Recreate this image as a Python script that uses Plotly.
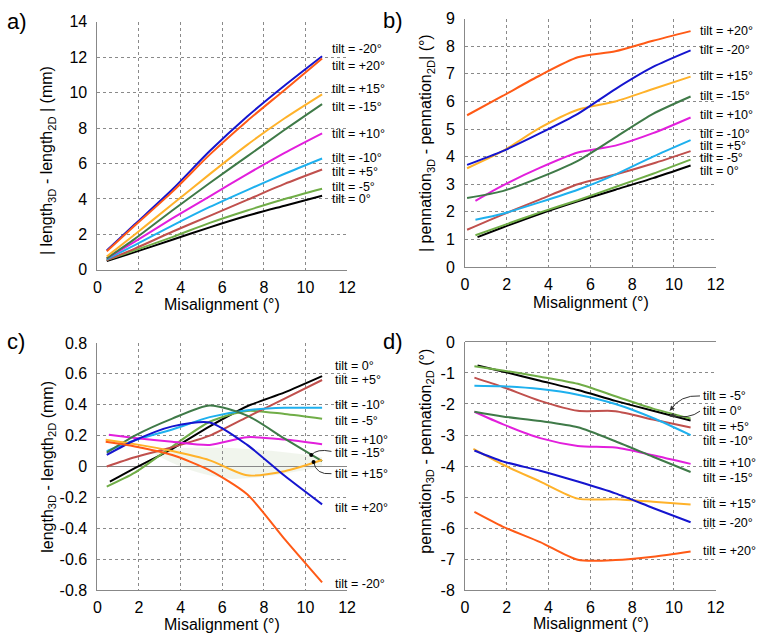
import plotly.graph_objects as go

# ==================== 数据 ====================
# tilt order used for every series list below
TILTS = ["0", "-5", "+5", "-10", "+10", "-15", "+15", "-20", "+20"]
COLORS = ["#000000", "#70AD47", "#C0504D", "#1EB0EE", "#E21FDC",
          "#3F7A48", "#FFB22A", "#1515CF", "#FF5A16"]

# misalignment (deg); first point differs slightly per series
MISALIGN = [0.5, 1.8, 3.6, 5.4, 7.2, 9.0, 10.8]
FIRST_X_A = [0.45, 0.45, 0.45, 0.45, 0.45, 0.45, 0.45, 0.45, 0.45]
FIRST_X_B = [0.6, 0.5, 0.1, 0.5, 0.5, 0.1, 0.1, 0.1, 0.1]
FIRST_X_C = [0.6, 0.45, 0.45, 0.45, 0.55, 0.45, 0.4, 0.45, 0.4]
FIRST_X_D = [0.6, 0.45, 0.45, 0.45, 0.45, 0.45, 0.4, 0.45, 0.45]

# a) | length3D - length2D | (mm)
A_T0 = [0.5, 1.0, 1.7, 2.4, 3.05, 3.62, 4.18]
A_M5 = [0.55, 1.1, 1.85, 2.65, 3.35, 4.0, 4.58]
A_P5 = [0.55, 1.2, 2.15, 3.05, 3.95, 4.85, 5.66]
A_M10 = [0.6, 1.4, 2.5, 3.55, 4.5, 5.42, 6.28]
A_P10 = [0.65, 1.6, 2.9, 4.15, 5.4, 6.6, 7.7]
A_M15 = [0.65, 1.75, 3.35, 4.9, 6.4, 7.9, 9.35]
A_P15 = [0.75, 2.0, 3.7, 5.4, 7.05, 8.55, 9.9]
A_M20 = [1.1, 2.57, 4.53, 6.7, 8.65, 10.4, 12.05]
A_P20 = [1.05, 2.5, 4.4, 6.5, 8.4, 10.15, 11.92]

# b) | pennation3D - pennation2D | (deg)
B_T0 = [1.08, 1.43, 1.93, 2.38, 2.8, 3.22, 3.68]
B_M5 = [1.15, 1.5, 1.98, 2.42, 2.9, 3.38, 3.89]
B_P5 = [1.35, 1.9, 2.45, 3.0, 3.35, 3.75, 4.2]
B_M10 = [1.71, 1.93, 2.35, 2.8, 3.35, 4.0, 4.6]
B_P10 = [2.4, 2.95, 3.6, 4.15, 4.4, 4.85, 5.42]
B_M15 = [2.5, 2.75, 3.25, 3.85, 4.7, 5.55, 6.18]
B_P15 = [3.58, 4.2, 5.05, 5.7, 6.0, 6.45, 6.9]
B_M20 = [3.7, 4.2, 4.85, 5.55, 6.45, 7.25, 7.85]
B_P20 = [5.5, 6.2, 6.95, 7.6, 7.82, 8.2, 8.55]

# c) length3D - length2D (mm)
C_T0 = [-0.098, -0.01, 0.115, 0.26, 0.39, 0.48, 0.585]
C_M5 = [-0.13, -0.04, 0.13, 0.29, 0.36, 0.34, 0.31]
C_P5 = [0.0, 0.06, 0.125, 0.2, 0.32, 0.44, 0.56]
C_M10 = [0.1, 0.17, 0.24, 0.32, 0.365, 0.38, 0.38]
C_P10 = [0.205, 0.185, 0.16, 0.14, 0.19, 0.175, 0.145]
C_M15 = [0.09, 0.2, 0.31, 0.395, 0.33, 0.18, 0.035]
C_P15 = [0.174, 0.145, 0.1, 0.04, -0.057, -0.03, 0.042]
C_M20 = [0.075, 0.17, 0.26, 0.285, 0.14, -0.06, -0.245]
C_P20 = [0.16, 0.13, 0.075, -0.025, -0.18, -0.47, -0.75]

# d) pennation3D - pennation2D (deg)
D_T0 = [-0.76, -0.95, -1.25, -1.55, -1.9, -2.22, -2.53]
D_M5 = [-0.78, -0.92, -1.12, -1.35, -1.75, -2.15, -2.47]
D_P5 = [-1.15, -1.45, -1.9, -2.22, -2.23, -2.5, -2.76]
D_M10 = [-1.41, -1.43, -1.52, -1.7, -2.0, -2.45, -3.0]
D_P10 = [-2.25, -2.65, -3.1, -3.35, -3.4, -3.65, -3.93]
D_M15 = [-2.25, -2.4, -2.55, -2.75, -3.2, -3.7, -4.19]
D_P15 = [-3.45, -3.95, -4.5, -5.05, -5.07, -5.15, -5.24]
D_M20 = [-3.5, -3.85, -4.15, -4.5, -4.88, -5.35, -5.81]
D_P20 = [-5.48, -5.95, -6.45, -7.02, -7.03, -6.92, -6.75]

# label text + y position at the right of each panel
LABELS_A = ["tilt = -20°", "tilt = +20°", "tilt = +15°", "tilt = -15°", "tilt = +10°",
            "tilt = -10°", "tilt = +5°", "tilt = -5°", "tilt = 0°"]
LABEL_Y_A = [12.48, 11.48, 10.2, 9.19, 7.67, 6.3, 5.53, 4.7, 3.97]
LABELS_B = ["tilt = +20°", "tilt = -20°", "tilt = +15°", "tilt = -15°", "tilt = +10°",
            "tilt = -10°", "tilt = +5°", "tilt = -5°", "tilt = 0°"]
LABEL_Y_B = [8.54, 7.88, 6.92, 6.21, 5.5, 4.83, 4.39, 3.94, 3.49]
LABELS_C = ["tilt = 0°", "tilt = +5°", "tilt = -10°", "tilt = -5°", "tilt = +10°",
            "tilt = -15°", "tilt = +15°", "tilt = +20°", "tilt = -20°"]
LABEL_Y_C = [0.648, 0.559, 0.40, 0.297, 0.175, 0.087, -0.046, -0.267, -0.762]
LABELS_D = ["tilt = -5°", "tilt = 0°", "tilt = +5°", "tilt = -10°", "tilt = +10°",
            "tilt = -15°", "tilt = +15°", "tilt = -20°", "tilt = +20°"]
LABEL_Y_D = [-1.74, -2.23, -2.75, -3.18, -3.9, -4.38, -5.22, -5.85, -6.75]

X_TICKS = [0, 2, 4, 6, 8, 10, 12]
C_TICKS = [0.8, 0.6, 0.4, 0.2, 0, -0.2, -0.4, -0.6, -0.8]
C_TICKTEXT = ["0.8", "0.6", "0.4", "0.2", "0", "-0.2", "-0.4", "-0.6", "-0.8"]
D_TICKS = [0, -1, -2, -3, -4, -5, -6, -7, -8]
D_TICKTEXT = ["0", "-1", "-2", "-3", "-4", "-5", "-6", "-7", "-8"]

# ==================== 布局 ====================
W, H = 763, 643
FONT = "Liberation Sans, Arial, sans-serif"
GRID = "#8a8a8a"
AXIS = "#888888"


def fx(px):
    return px / W


def fy(py):
    return 1 - py / H


# plot areas in pixels: (left, right, top, bottom)
BOXES = {
    "a": (95, 349, 14, 269),
    "b": (469, 724, 11, 266),
    "c": (95, 349, 344, 598),
    "d": (469, 724, 343, 598),
}

PANELS = [
    ("a", "x", "y", FIRST_X_A, [A_T0, A_M5, A_P5, A_M10, A_P10, A_M15, A_P15, A_M20, A_P20]),
    ("b", "x2", "y2", FIRST_X_B, [B_T0, B_M5, B_P5, B_M10, B_P10, B_M15, B_P15, B_M20, B_P20]),
    ("c", "x3", "y3", FIRST_X_C, [C_T0, C_M5, C_P5, C_M10, C_P10, C_M15, C_P15, C_M20, C_P20]),
    ("d", "x4", "y4", FIRST_X_D, [D_T0, D_M5, D_P5, D_M10, D_P10, D_M15, D_P15, D_M20, D_P20]),
]

fig = go.Figure()

for key, xa, ya, first_x, series in PANELS:
    for i, ys in enumerate(series):
        xs = [first_x[i]] + MISALIGN[1:]
        fig.add_trace(go.Scatter(
            x=xs, y=ys, xaxis=xa, yaxis=ya, mode="lines",
            line=dict(color=COLORS[i], width=2, shape="spline", smoothing=0.7),
            name=f"{key}) tilt {TILTS[i]}", showlegend=False,
            hovertemplate="%{x}: %{y}<extra></extra>",
        ))

x_common = dict(range=[0, 12], tickvals=X_TICKS, showgrid=True, griddash="dot",
                gridcolor=GRID, gridwidth=1, showline=True, linecolor=AXIS,
                linewidth=1, zeroline=False, ticks="", ticklabelstandoff=3,
                tickfont=dict(size=16, color="#000"))
y_common = dict(showgrid=True, griddash="dot", gridcolor=GRID, gridwidth=1,
                showline=True, linecolor=AXIS, linewidth=1, ticks="",
                ticklabelstandoff=6, tickfont=dict(size=16, color="#000"))

layout_axes = {}
y_specs = {
    "a": dict(range=[0, 14], tickvals=[0, 2, 4, 6, 8, 10, 12, 14], zeroline=False),
    "b": dict(range=[0, 9], tickvals=list(range(10)), zeroline=False),
    "c": dict(range=[-0.8, 0.8], tickvals=C_TICKS, ticktext=C_TICKTEXT,
              zeroline=True, zerolinecolor=AXIS, zerolinewidth=1),
    "d": dict(range=[-8, 0], tickvals=D_TICKS, ticktext=D_TICKTEXT,
              zeroline=True, zerolinecolor=AXIS, zerolinewidth=1),
}
for n, (key, xa, ya, _, _) in enumerate(PANELS, start=1):
    l, r, t, b = BOXES[key]
    suffix = "" if n == 1 else str(n)
    layout_axes["xaxis" + suffix] = dict(x_common, domain=[fx(l), fx(r)], anchor=ya)
    layout_axes["yaxis" + suffix] = dict(y_common, domain=[fy(b), fy(t)], anchor=xa,
                                         **y_specs[key])

annotations = []

# series labels on the right
for xa, ya, labels, ys, x0 in [("x", "y", LABELS_A, LABEL_Y_A, 11.18),
                               ("x2", "y2", LABELS_B, LABEL_Y_B, 11.15),
                               ("x3", "y3", LABELS_C, LABEL_Y_C, 11.34),
                               ("x4", "y4", LABELS_D, LABEL_Y_D, 11.31)]:
    for txt, yv in zip(labels, ys):
        annotations.append(dict(x=x0, y=yv, xref=xa, yref=ya, text=txt,
                                showarrow=False, xanchor="left", yanchor="middle",
                                font=dict(size=12.5, color="#000")))

# panel letters
for txt, px, py in [("a)", 13, 14), ("b)", 396, 13), ("c)", 12, 343), ("d)", 396, 343)]:
    annotations.append(dict(x=fx(px), y=fy(py), xref="paper", yref="paper", text=txt,
                            xanchor="center", yanchor="middle", showarrow=False,
                            font=dict(size=22, color="#000")))

# axis titles
for px, py in [(222, 305), (597, 302), (222, 633), (597, 632)]:
    annotations.append(dict(x=fx(px), y=fy(py), xref="paper", yref="paper",
                            text="Misalignment (°)", showarrow=False,
                            xanchor="center", yanchor="middle",
                            font=dict(size=16, color="#000")))
for txt, px, py in [
    ("| length<sub>3D</sub> - length<sub>2D</sub> | (mm)", 45, 157),
    ("| pennation<sub>3D</sub> - pennation<sub>2D</sub>| (°)", 430, 139),
    ("length<sub>3D</sub> - length<sub>2D</sub> (mm)", 45, 471),
    ("pennation<sub>3D</sub> - pennation<sub>2D</sub> (°)", 430, 455),
]:
    annotations.append(dict(x=fx(px), y=fy(py), xref="paper", yref="paper", text=txt,
                            textangle=-90, showarrow=False,
                            xanchor="center", yanchor="middle",
                            font=dict(size=16, color="#000")))

# arrow heads for the d) leaders
for tip_x, tip_y, ax, ay in [(9.8, -2.22, 6, -7), (9.76, -2.38, 9, -1)]:
    annotations.append(dict(x=tip_x, y=tip_y, xref="x4", yref="y4", text="",
                            showarrow=True, arrowhead=2, arrowsize=1, arrowwidth=1,
                            arrowcolor="#333", ax=ax, ay=ay))

shapes = []
# faint grey-green wash behind the lower curves of c)
shapes.append(dict(type="path", xref="x3", yref="y3", layer="below",
                   path="M 2.5 0.1 Q 6 0.16 10.8 0.06 L 10.8 0.0 Q 8 -0.08 6.5 -0.08 "
                        "Q 4.5 -0.06 2.5 0.1 Z",
                   fillcolor="rgba(225,232,215,0.45)", line=dict(width=0)))
# leader curves
for path, xr, yr in [
    ("M 10.28 0.074 Q 10.55 0.118 11.25 0.098", "x3", "y3"),
    ("M 10.39 0.03 Q 10.5 -0.055 11.25 -0.046", "x3", "y3"),
    ("M 11.25 -1.74 Q 10.3 -1.7 9.82 -2.2", "x4", "y4"),
    ("M 11.25 -2.23 Q 10.75 -2.5 9.78 -2.38", "x4", "y4"),
]:
    shapes.append(dict(type="path", path=path, xref=xr, yref=yr,
                       line=dict(color="#333", width=1)))
# leader dots for c)
for cx, cy in [(10.28, 0.074), (10.39, 0.03)]:
    shapes.append(dict(type="circle", xref="x3", yref="y3", xsizemode="pixel",
                       ysizemode="pixel", xanchor=cx, yanchor=cy, x0=-2, x1=2,
                       y0=-2, y1=2, fillcolor="#000", line=dict(width=0)))

fig.update_layout(
    width=W, height=H, autosize=False,
    margin=dict(l=0, r=0, t=0, b=0),
    plot_bgcolor="#FFFFFF", paper_bgcolor="#FFFFFF",
    font=dict(family=FONT, color="#000"),
    annotations=annotations, shapes=shapes,
    showlegend=False,
    **layout_axes,
)

# page body has a default 8px margin; drop it so the figure sits at the corner
fig.write_html("out.html", config={"displayModeBar": False},
               post_script="document.body.style.margin='0';")
